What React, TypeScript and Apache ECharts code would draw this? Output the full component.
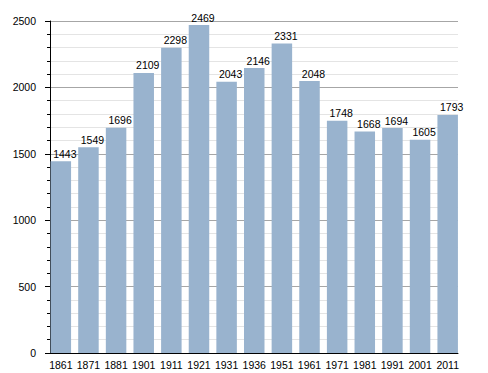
import React, { useEffect, useRef } from "react";
import * as echarts from "echarts";

const years = ["1861", "1871", "1881", "1901", "1911", "1921", "1931", "1936", "1951", "1961", "1971", "1981", "1991", "2001", "2011"];
const population = [1443, 1549, 1696, 2109, 2298, 2469, 2043, 2146, 2331, 2048, 1748, 1668, 1694, 1605, 1793];

const FONT = "Liberation Sans, Arial, sans-serif";

export default function App() {
  const ref = useRef<HTMLDivElement>(null);
  useEffect(() => {
    if (!ref.current) return;
    const chart = echarts.init(ref.current, null, { renderer: "svg" });
    chart.setOption({
      animation: false,
      backgroundColor: "#ffffff",
      grid: [
        { left: 50, right: 30, top: 21, bottom: 20 },
        { left: 47, right: 26.5, top: 21, bottom: 20 },
      ],
      xAxis: [
        {
          type: "category",
          gridIndex: 0,
          data: years,
          axisLine: { show: true, lineStyle: { color: "#000", width: 1 } },
          axisTick: { show: false },
          axisLabel: { show: false },
          splitLine: { show: false },
        },
        {
          type: "category",
          gridIndex: 1,
          data: years,
          axisLine: { show: false },
          axisTick: { show: false },
          axisLabel: { interval: 0, color: "#000", fontFamily: FONT, fontSize: 10.5, margin: 6 },
          splitLine: { show: false },
        },
      ],
      yAxis: [
        {
          type: "value",
          gridIndex: 0,
          min: 0,
          max: 2500,
          interval: 500,
          axisLine: { show: true, lineStyle: { color: "#000", width: 1 } },
          axisTick: { show: true, length: 5, lineStyle: { color: "#000" } },
          minorTick: { show: true, splitNumber: 5, length: 3, lineStyle: { color: "#000" } },
          axisLabel: {
            color: "#000",
            fontFamily: FONT,
            fontSize: 10.5,
            margin: 14,
            formatter: (v: number) => String(v),
          },
          splitLine: { show: true, lineStyle: { color: "#a6a6a6", width: 1 } },
          minorSplitLine: { show: true, lineStyle: { color: "#e4e4e4", width: 1 } },
        },
        {
          type: "value",
          gridIndex: 1,
          min: 0,
          max: 2500,
          interval: 500,
          show: false,
        },
      ],
      series: [
        {
          type: "bar",
          xAxisIndex: 1,
          yAxisIndex: 1,
          data: population,
          barWidth: 20.5,
          itemStyle: { color: "#99b3ce" },
          label: {
            show: true,
            position: "top",
            distance: 2,
            offset: [4, 0],
            color: "#000",
            fontFamily: FONT,
            fontSize: 10.5,
          },
        },
      ],
    });
    return () => chart.dispose();
  }, []);
  return <div ref={ref} style={{ width: 488, height: 373, position: "absolute", left: 0, top: 0 }} />;
}
